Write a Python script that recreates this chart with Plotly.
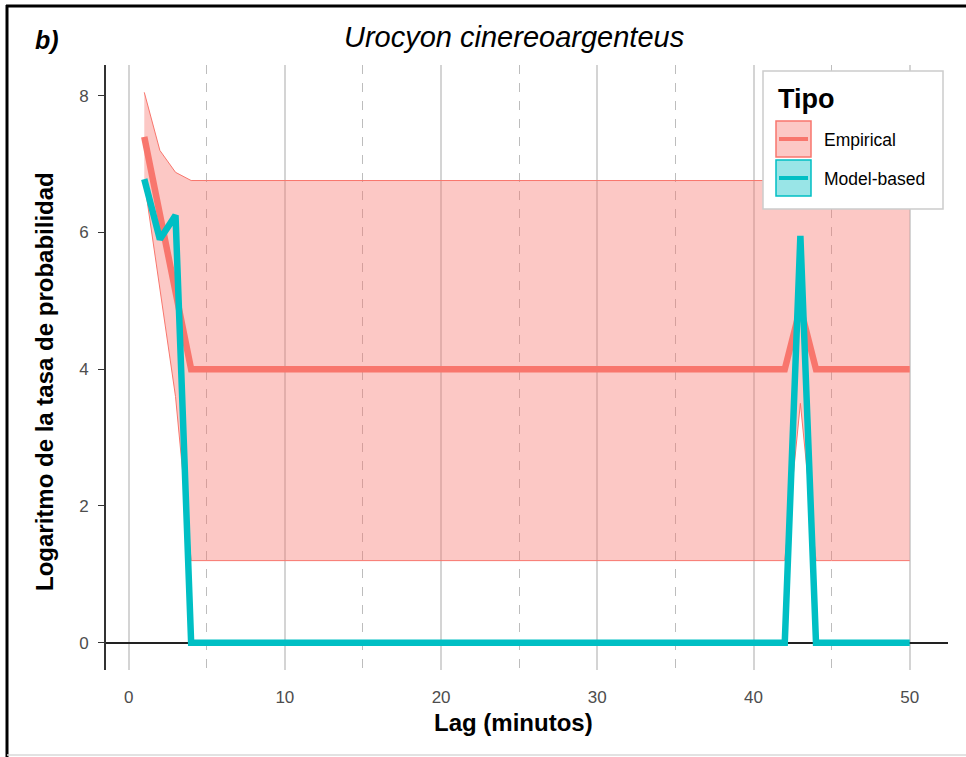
import plotly.graph_objects as go

# ---- data ----
lag = list(range(1, 51))
empirical = [7.4, 6.3, 5.1, 4.0] + [4.0] * 38 + [4.9] + [4.0] * 7
emp_upper = [8.05, 7.2, 6.88, 6.76] + [6.76] * 38 + [6.76] + [6.76] * 7
emp_lower = [6.75, 5.2, 3.6, 1.2] + [1.2] * 38 + [3.5] + [1.2] * 7
model = [6.78, 5.9, 6.25, 0.0] + [0.0] * 38 + [5.95] + [0.0] * 7

x_ticks = [0, 10, 20, 30, 40, 50]
y_ticks = [0, 2, 4, 6, 8]
series_names = ["Empirical", "Model-based"]
RED = "#F8766D"
CYAN = "#00BFC4"

W, H = 966, 757
L, R, T, B = 106, 948, 65, 670


def px(x):
    return (x - L) / (R - L)


def py(y):
    return (B - y) / (B - T)


fig = go.Figure()
fig.add_trace(go.Scatter(x=lag, y=emp_lower, mode="lines",
                         line=dict(color=RED, width=1), showlegend=False,
                         hoverinfo="skip"))
fig.add_trace(go.Scatter(x=lag, y=emp_upper, mode="lines", fill="tonexty",
                         fillcolor="rgba(248,118,109,0.4)",
                         line=dict(color=RED, width=1), showlegend=False,
                         hoverinfo="skip"))
fig.add_trace(go.Scatter(x=lag, y=empirical, mode="lines", name=series_names[0],
                         line=dict(color=RED, width=6.5), showlegend=False))
fig.add_trace(go.Scatter(x=lag, y=model, mode="lines", name=series_names[1],
                         line=dict(color=CYAN, width=6.5), showlegend=False))

FONT = "Liberation Sans, Arial, sans-serif"

fig.update_layout(
    width=W, height=H,
    margin=dict(l=L, r=W - R, t=T, b=H - B, pad=0),
    paper_bgcolor="white", plot_bgcolor="white",
    font=dict(family=FONT, color="#4d4d4d"),
    showlegend=False,
    xaxis=dict(
        range=[-1.45, 52.45], tickvals=x_ticks, ticktext=[str(v) for v in x_ticks],
        showgrid=True, gridcolor="#d4d4d4", gridwidth=1.5,
        minor=dict(tick0=5, dtick=10, showgrid=True, gridcolor="#bdbdbd",
                   griddash="dash", gridwidth=1.2),
        zeroline=False, showline=False,
        ticks="outside", ticklen=12, tickcolor="rgba(0,0,0,0)",
        tickfont=dict(size=17, color="#4d4d4d"),
    ),
    yaxis=dict(
        range=[-0.40, 8.45], tickvals=y_ticks, ticktext=[str(v) for v in y_ticks],
        showgrid=False,
        zeroline=True, zerolinecolor="#222222", zerolinewidth=1.6,
        showline=True, linecolor="#333333", linewidth=1.6,
        ticks="outside", ticklen=6, tickcolor="#333333", tickwidth=1.4,
        ticklabelstandoff=6,
        tickfont=dict(size=17, color="#4d4d4d"),
    ),
)

shapes = []
# outer frame: top and left black, bottom light grey
shapes.append(dict(type="line", xref="paper", yref="paper",
                   x0=px(6), x1=px(966), y0=py(6), y1=py(6),
                   line=dict(color="black", width=3)))
shapes.append(dict(type="line", xref="paper", yref="paper",
                   x0=px(7), x1=px(7), y0=py(5), y1=py(757),
                   line=dict(color="black", width=3)))
shapes.append(dict(type="line", xref="paper", yref="paper",
                   x0=px(7), x1=px(966), y0=py(755), y1=py(755),
                   line=dict(color="#d9d9d9", width=1.5)))
# legend box
shapes.append(dict(type="rect", xref="paper", yref="paper", layer="above",
                   x0=px(763), x1=px(943), y0=py(209), y1=py(71),
                   fillcolor="white", line=dict(color="#cccccc", width=1.5)))
# legend keys
for (top, bot, col, fillc) in [(121, 157, RED, "rgba(248,118,109,0.4)"),
                               (160, 196, CYAN, "rgba(0,191,196,0.4)")]:
    shapes.append(dict(type="rect", xref="paper", yref="paper", layer="above",
                       x0=px(776), x1=px(811), y0=py(bot), y1=py(top),
                       fillcolor=fillc, line=dict(color=col, width=1.5)))
    mid = (top + bot) / 2
    shapes.append(dict(type="line", xref="paper", yref="paper", layer="above",
                       x0=px(779), x1=px(808), y0=py(mid), y1=py(mid),
                       line=dict(color=col, width=4)))
fig.update_layout(shapes=shapes)

ann = []
ann.append(dict(text="<i>Urocyon cinereoargenteus</i>", xref="paper", yref="paper",
                x=px(514), y=py(37), xanchor="center", yanchor="middle",
                showarrow=False, font=dict(size=29, color="black", family=FONT)))
ann.append(dict(text="<b><i>b)</i></b>", xref="paper", yref="paper",
                x=px(33), y=py(40), xanchor="left", yanchor="middle",
                showarrow=False, font=dict(size=25, color="black", family=FONT)))
ann.append(dict(text="<b>Lag (minutos)</b>", xref="paper", yref="paper",
                x=px(513), y=py(722), xanchor="center", yanchor="middle",
                showarrow=False, font=dict(size=24, color="black", family=FONT)))
ann.append(dict(text="<b>Logaritmo de la tasa de probabilidad</b>", xref="paper",
                yref="paper", x=px(45), y=py(382), xanchor="center",
                yanchor="middle", textangle=-90, showarrow=False,
                font=dict(size=24, color="black", family=FONT)))
ann.append(dict(text="<b>Tipo</b>", xref="paper", yref="paper",
                x=px(776), y=py(99), xanchor="left", yanchor="middle",
                showarrow=False, font=dict(size=27, color="black", family=FONT)))
ann.append(dict(text=series_names[0], xref="paper", yref="paper",
                x=px(822), y=py(140), xanchor="left", yanchor="middle",
                showarrow=False, font=dict(size=17.5, color="black", family=FONT)))
ann.append(dict(text=series_names[1], xref="paper", yref="paper",
                x=px(822), y=py(179), xanchor="left", yanchor="middle",
                showarrow=False, font=dict(size=17.5, color="black", family=FONT)))
fig.update_layout(annotations=ann)

fig.write_html("out.html", config={"displayModeBar": False},
               post_script="document.body.style.margin='0';")
